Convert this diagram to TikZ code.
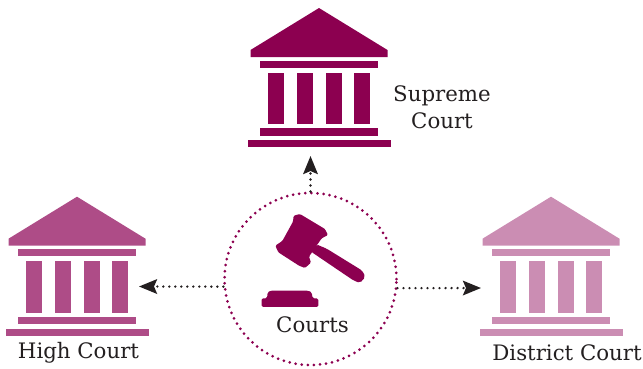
\documentclass[tikz,border=0pt]{standalone}
\usepackage{fontspec}
\setmainfont{DejaVu Serif}
\usetikzlibrary{arrows.meta}
\definecolor{supremec}{HTML}{8C0050}
\definecolor{highc}{HTML}{AE4C87}
\definecolor{districtc}{HTML}{CB8DB3}
\definecolor{inkc}{HTML}{231F20}
\newcommand{\courthouse}[3]{%
  \begin{scope}[shift={(#1,#2)},fill=#3]
    \fill (0,0) -- (68.5,42) -- (68.5,49) -- (-68.5,49) -- (-68.5,42) -- cycle;
    \fill (-59,52.5) rectangle (59,59.5);
    \foreach \cx in {-43,-14.5,14.5,43} \fill (\cx-8,64.5) rectangle (\cx+8,116);
    \fill (-59,120) rectangle (59,127.5);
    \fill (-71.5,132) rectangle (71.5,139);
  \end{scope}}
\tikzset{
  label text/.style={text=inkc,font=\fontsize{21.3}{23}\selectfont,inner sep=0pt,anchor=base},
  hub ring/.style={draw=supremec,line width=3pt,line cap=round,dash pattern=on 0pt off 6.1pt,circle,minimum size=172pt,inner sep=0pt},
  flow/.style={draw=inkc,line width=2.6pt,line cap=round,dash pattern=on 0pt off 6pt,
    -{Stealth[length=18pt,width=14.5pt,inset=3pt,line cap=butt,sep=0pt]}},
}
\begin{document}
\begin{tikzpicture}[x=1pt,y=-1pt]
\useasboundingbox (0,0) rectangle (643,368);
\courthouse{319}{8}{supremec}
\courthouse{77}{196.7}{highc}
\courthouse{551}{196.7}{districtc}
\node[hub ring] (hub) at (310.5,279) {};
% gavel
\begin{scope}[shift={(255,205)},x=0.3333pt,y=-0.3333pt,fill=supremec]
  \fill[rounded corners=1.2pt] (114,50) -- (116,32) -- (135,27) -- (210,72) -- (219,90) -- (200,100) -- (162,155) -- (168,173) -- (150,189) -- (132,182) -- (70,142) -- (61,122) -- (82,108) -- cycle;
  \fill[rounded corners=2pt] (168,140) -- (184,118) -- (215,131) -- (322,197) -- (331,216) -- (315,234) -- (295,226) -- cycle;
  \fill[rounded corners=1.5pt] (20,306) -- (20,280) -- (36,280) -- (38,262) -- (46,257) -- (160,257) -- (170,262) -- (173,280) -- (190,280) -- (190,306) -- cycle;
\end{scope}
\coordinate (topend) at (310.5,156);
\coordinate (leftend) at (139,286.5);
\coordinate (rightend) at (481,288);
\draw[flow] (hub.90) -- (topend);
\draw[flow] (hub.185) -- (leftend);
\draw[flow] (hub.354) -- (rightend);
\node[label text] (sup1) at (442,101) {Supreme};
\node[label text] (sup2) at (442,128) {Court};
\node[label text] (crt) at (312.5,332.7) {Courts};
\node[label text] (hi) at (78.5,358.3) {High Court};
\node[label text] (di) at (567,360) {District Court};
\end{tikzpicture}
\end{document}
